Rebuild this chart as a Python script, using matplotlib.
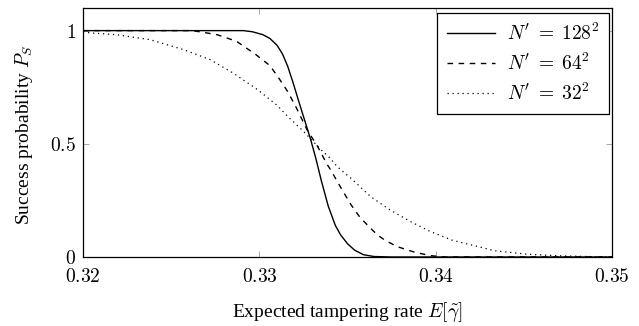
import matplotlib
matplotlib.use("Agg")
import matplotlib.pyplot as plt

plt.rcParams['font.family'] = ['Liberation Serif', 'DejaVu Serif']
plt.rcParams['mathtext.fontset'] = 'cm'

# values
x_128 = [0.3200, 0.3291, 0.3296, 0.3302, 0.3306, 0.3310, 0.3313, 0.3316, 0.3319, 0.3322,
         0.3325, 0.3329, 0.3332, 0.3335, 0.3339, 0.3343, 0.3346, 0.3350, 0.3354, 0.3359,
         0.3365, 0.3375, 0.3500]
p_128 = [1.000, 1.000, 0.995, 0.982, 0.965, 0.935, 0.898, 0.843, 0.772, 0.695,
         0.620, 0.520, 0.435, 0.340, 0.225, 0.140, 0.098, 0.058, 0.030, 0.010,
         0.002, 0.000, 0.000]

x_64 = [0.3200, 0.3262, 0.3270, 0.3276, 0.3287, 0.3298, 0.3306, 0.3311, 0.3316, 0.3321,
        0.3327, 0.3333, 0.3338, 0.3341, 0.3344, 0.3348, 0.3352, 0.3357, 0.3363, 0.3367,
        0.3371, 0.3378, 0.3388, 0.3397, 0.3405, 0.3500]
p_64 = [1.000, 1.000, 0.990, 0.982, 0.953, 0.894, 0.845, 0.790, 0.731, 0.658,
        0.562, 0.488, 0.414, 0.377, 0.335, 0.282, 0.230, 0.175, 0.127, 0.097,
        0.075, 0.046, 0.021, 0.006, 0.000, 0.000]

x_32 = [0.3200, 0.3204, 0.3219, 0.3238, 0.3257, 0.3272, 0.3285, 0.3299, 0.3310, 0.3316,
        0.3325, 0.3335, 0.3340, 0.3344, 0.3353, 0.3363, 0.3374, 0.3386, 0.3397, 0.3409,
        0.3416, 0.3424, 0.3433, 0.3452, 0.3471, 0.3486, 0.3500]
p_32 = [0.995, 0.990, 0.982, 0.960, 0.916, 0.872, 0.813, 0.739, 0.670, 0.621,
        0.555, 0.473, 0.437, 0.400, 0.340, 0.267, 0.208, 0.155, 0.112, 0.075,
        0.061, 0.046, 0.028, 0.012, 0.005, 0.002, 0.000]

labels = [r"$N'\;=\;128^2$", r"$N'\;=\;64^2$", r"$N'\;=\;32^2$"]
xticks = [0.32, 0.33, 0.34, 0.35]
yticks = [0, 0.5, 1]

fig = plt.figure(figsize=(6.39, 3.26), dpi=100)
ax = fig.add_axes([0.130, 0.2117, 0.828, 0.7638])

ax.plot(x_128, p_128, color='black', lw=1.0, linestyle='-', label=labels[0])
ax.plot(x_64, p_64, color='black', lw=1.0, linestyle=(0, (4, 4)), label=labels[1])
ax.plot(x_32, p_32, color='black', lw=0.9, linestyle=(0, (1, 3)), label=labels[2])

ax.set_xlim(0.32, 0.35)
ax.set_ylim(0, 1.1)
ax.set_xticks(xticks)
ax.set_xticklabels(['$%.2f$' % t for t in xticks])
ax.set_yticks(yticks)
ax.set_yticklabels(['$0$', '$0.5$', '$1$'])
ax.tick_params(direction='in', length=4, width=0.6, color='#999999', top=True, right=True,
               labelsize=14)
ax.tick_params(axis='x', pad=8)
ax.tick_params(axis='y', pad=5)

for s in ax.spines.values():
    s.set_linewidth(0.9)
    s.set_color('black')

ax.set_xlabel(r"Expected tampering rate $E[\tilde{\gamma}]$", fontsize=14, labelpad=10)
ax.set_ylabel(r"Success probability $P_S$", fontsize=14)
ax.yaxis.set_label_coords(-0.09, 0.49)

leg = ax.legend(loc='upper right', bbox_to_anchor=(0.994, 0.98), borderaxespad=0,
                fontsize=14, frameon=True, fancybox=False, edgecolor='black',
                framealpha=1, handlelength=2.5, handletextpad=0.6, labelspacing=0.45,
                borderpad=0.5)
leg.get_frame().set_linewidth(0.9)

fig.savefig('out.png', dpi=100)
